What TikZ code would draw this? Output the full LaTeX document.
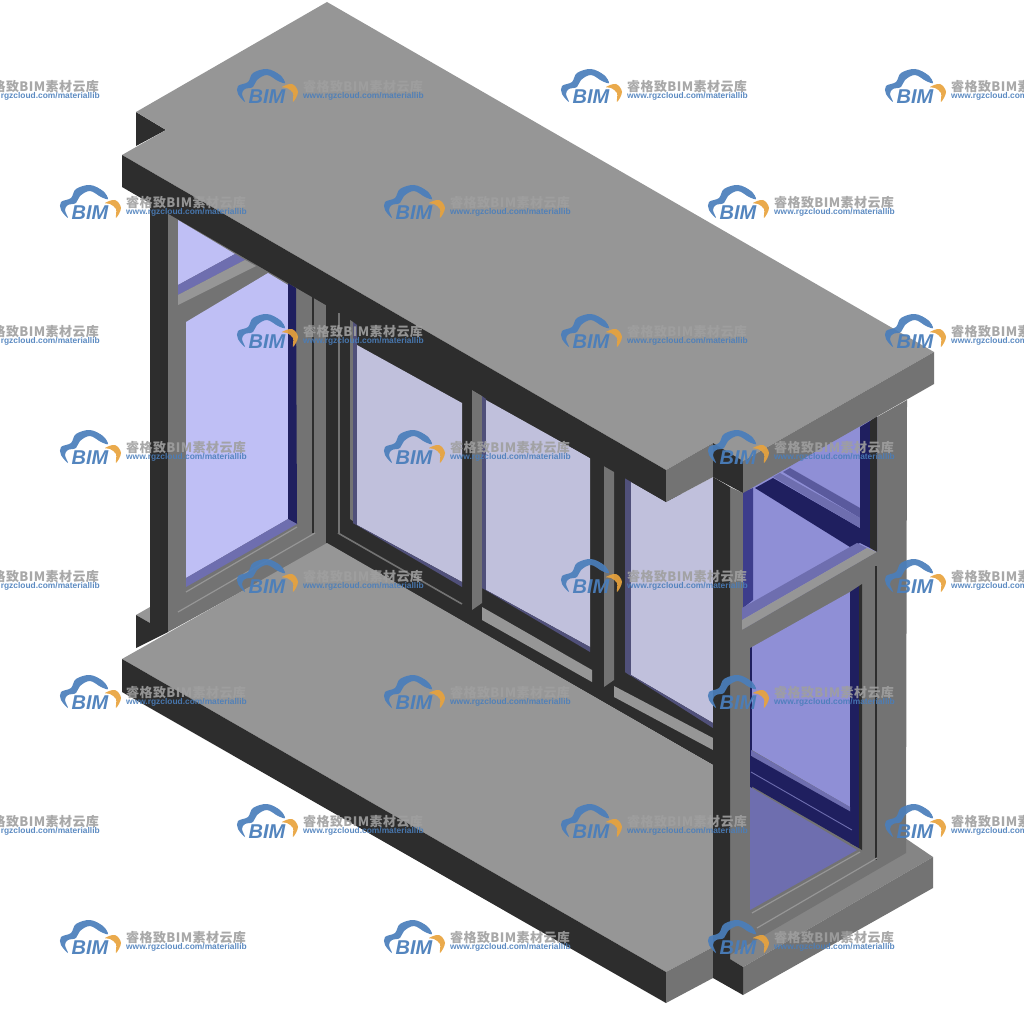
\documentclass[tikz,border=0pt]{standalone}
\usepackage{fontspec}
\setmainfont{Liberation Sans}
\newfontfamily\cjkfont[LetterSpace=3.2]{Noto Sans CJK SC}
\definecolor{slabface}{HTML}{969696}
\definecolor{darkface}{HTML}{2D2D2D}
\definecolor{sideface}{HTML}{737373}
\definecolor{sillface}{HTML}{858585}
\definecolor{glassleft}{HTML}{BFBFF5}
\definecolor{glassmid}{HTML}{C0C0DC}
\definecolor{glassright}{HTML}{8F8FD6}
\definecolor{navyface}{HTML}{1F1F5F}
\definecolor{purpleband}{HTML}{6E6EAF}
\definecolor{steelband}{HTML}{50507A}
\definecolor{indigoface}{HTML}{3D3D8C}
\definecolor{cloudblue}{HTML}{4A7EBB}
\definecolor{cloudorange}{HTML}{E8A33D}
\tikzset{
  slabtop/.style={fill=slabface},
  slabdark/.style={fill=darkface},
  slabside/.style={fill=sideface},
  glassL/.style={fill=glassleft},
  glassM/.style={fill=glassmid},
  glassR/.style={fill=glassright},
  navy/.style={fill=navyface},
  band/.style={fill=purpleband},
  steel/.style={fill=steelband},
  lightband/.style={fill=slabface},
  hairline/.style={draw=slabface,line width=1.2pt},
  cloudpart/.style={fill=cloudblue,opacity=.92},
  cloudtip/.style={fill=cloudorange,opacity=.92},
  marktext/.style={inner sep=0pt,anchor=west,text opacity=.9},
}
\newcommand{\bimmark}[3]{
  \begin{scope}[shift={(#1,#2)}]
    \fill[cloudpart] plot[smooth cycle,tension=.6] coordinates {(-23,14) (-30,6) (-30,-2) (-20,-6) (-15,-15) (-1,-19) (12,-13) (17,-5) (10,-7) (-1,-13) (-11,-8) (-15,-1) (-23,1) (-26,6)};
    \fill[cloudtip] plot[smooth cycle,tension=.6] coordinates {(14,-1) (24,-4) (30,4) (25,14) (25,5) (19,0)};
    \node[inner sep=0pt,text=cloudblue,text opacity=.95] (logo#3) at (-1,9) {\fontsize{20}{20}\selectfont\bfseries\itshape BIM};
    \node[marktext,text=gray!75] (name#3) at (35,-1) {\fontsize{13}{13}\selectfont\bfseries\cjkfont 睿格致BIM素材云库};
    \node[marktext,text=cloudblue] (url#3) at (35,8) {\fontsize{8.4}{8}\selectfont\bfseries www.rgzcloud.com/materiallib};
  \end{scope}
}
\begin{document}
\begin{tikzpicture}[x=1pt,y=-1pt]
  \useasboundingbox (0,0) rectangle (1024,1024);

  % left wall
  \fill[slabdark] (136,112) -- (166,130) -- (136,146) -- cycle;
  \fill[slabtop] (136,615) -- (150,607) -- (150,623) -- cycle;
  \fill[slabdark] (136,615) -- (150,623) -- (150,200) -- (168,200) -- (168,632) -- (136,648) -- cycle;
  \fill[slabside] (168,205) -- (330,300) -- (330,543) -- (168,632) -- cycle;
  \fill[glassL] (178,220) -- (235,254) -- (178,285) -- cycle;
  \fill[band] (178,285) -- (235,254) -- (245,260) -- (178,295) -- cycle;
  \fill[lightband] (178,295) -- (245,260) -- (256,266) -- (178,305) -- cycle;
  \fill[glassL] (186,322) -- (268,273) -- (288,285) -- (288,519) -- (186,578) -- cycle;
  \fill[navy] (288,283) -- (296,288) -- (297,524) -- (288,519) -- cycle;
  \fill[band] (186,578) -- (288,519) -- (297,524) -- (186,587) -- cycle;
  \draw[hairline] (186,592) -- (297,527);
  \draw[hairline] (178,612) -- (315,533);
  \fill[slabdark] (312,295) rectangle (314,533);

  % long window
  \fill[slabdark] (326,290) -- (713,513) -- (713,765) -- (326,543) -- cycle;
  \fill[slabside] (338,313) rectangle (340,533);
  \fill[slabside] (350,320) -- (353,322) -- (353,521) -- (350,519) -- cycle;
  \fill[steel] (353,322) -- (357,325) -- (357,525) -- (353,523) -- cycle;
  \fill[glassM] (357,345) -- (462,403) -- (462,582) -- (357,525) -- cycle;
  \fill[steel] (353,523) -- (357,525) -- (462,582) -- (462,587) -- cycle;
  \draw[draw=sideface,line width=1.6pt] (338,533) -- (462,604);
  \fill[slabside] (472,390) -- (482,396) -- (482,603) -- (472,610) -- cycle;
  \fill[steel] (482,396) -- (486,399) -- (486,590) -- (482,588) -- cycle;
  \fill[glassM] (486,400) -- (590,458) -- (590,647) -- (486,590) -- cycle;
  \fill[steel] (482,588) -- (486,590) -- (590,647) -- (590,652) -- cycle;
  \fill[lightband] (482,607) -- (592,670) -- (592,682) -- (482,620) -- cycle;
  \fill[slabside] (604,465) -- (614,471) -- (614,680) -- (604,687) -- cycle;
  \fill[steel] (625,476) -- (631,480) -- (631,676) -- (625,672) -- cycle;
  \fill[glassM] (631,482) -- (666,502) -- (713,477) -- (713,723) -- (631,675) -- cycle;
  \fill[steel] (625,672) -- (631,675) -- (713,723) -- (713,728) -- cycle;
  \fill[lightband] (614,686) -- (713,738) -- (713,750) -- (614,697) -- cycle;

  % floor slab
  \fill[slabtop] (122,659) -- (327,543) -- (713,765) -- (713,947) -- (666,972) -- cycle;
  \fill[slabdark] (122,659) -- (122,692) -- (666,1003) -- (666,972) -- cycle;
  \fill[slabside] (666,972) -- (713,947) -- (713,978) -- (666,1003) -- cycle;

  % right wall and sill
  \fill[sillface] (905,838) -- (933,857) -- (743,967) -- (730,959) -- (730,940) -- cycle;
  \fill[slabside] (743,967) -- (933,857) -- (933,888) -- (743,995) -- cycle;
  \fill[slabside] (730,487) -- (743,493) -- (907,400) -- (906,853) -- (730,955) -- cycle;
  \fill[slabdark] (713,477) -- (730,487) -- (730,959) -- (743,967) -- (743,995) -- (713,978) -- cycle;

  % right window, upper part
  \fill[glassR] (743,490) -- (877,416) -- (877,552) -- (743,630) -- cycle;
  \fill[indigoface] (743,492) -- (753,488) -- (753,600) -- (743,608) -- cycle;
  \fill[navy] (755,488) -- (773,478) -- (860,528) -- (860,543) -- (850,547) -- cycle;
  \fill[fill=indigoface!85] (783,472) -- (790,468) -- (860,508) -- (860,518) -- cycle;
  \fill[band] (773,477) -- (780,473) -- (860,518) -- (860,528) -- cycle;
  \fill[navy] (860,427) -- (870,421) -- (870,548) -- (860,543) -- cycle;
  \fill[slabdark] (870,421) -- (877,416) -- (877,552) -- (870,548) -- cycle;
  \fill[band] (742,608) -- (857,543) -- (867,548) -- (742,620) -- cycle;
  \fill[lightband] (742,620) -- (867,548) -- (877,552) -- (742,630) -- cycle;
  \fill[slabside] (742,630) -- (877,552) -- (877,590) -- (742,660) -- cycle;

  % right window, lower part
  \fill[slabdark] (875,566) rectangle (877,860);
  \fill[navy] (750,648) -- (752,647) -- (752,790) -- (750,787) -- cycle;
  \fill[glassR] (752,647) -- (850,592) -- (850,807) -- (752,750) -- cycle;
  \fill[navy] (850,592) -- (859,586) -- (859,848) -- (850,843) -- cycle;
  \fill[slabdark] (859,586) -- (862,584) -- (862,850) -- (859,848) -- cycle;
  \fill[band] (751,750) -- (850,807) -- (850,812) -- (751,756) -- cycle;
  \fill[navy] (751,756) -- (851,812) -- (859,848) -- (751,786) -- cycle;
  \draw[draw=purpleband,line width=.9pt] (751,772) -- (852,830);
  \fill[band] (750,787) -- (857,850) -- (750,910) -- cycle;
  \draw[hairline] (752,913) -- (860,852);
  \draw[hairline] (757,928) -- (877,858);

  % roof slab
  \fill[slabtop] (122,155) -- (666,470) -- (713,443) -- (743,461) -- (934,352) -- (327,2) -- (136,112) -- (166,130) -- cycle;
  \fill[slabdark] (122,155) -- (122,187) -- (666,502) -- (666,470) -- cycle;
  \fill[slabside] (666,470) -- (713,443) -- (713,477) -- (666,502) -- cycle;
  \fill[slabdark] (713,443) -- (743,461) -- (743,493) -- (713,477) -- cycle;
  \fill[slabside] (743,461) -- (934,352) -- (934,384) -- (743,493) -- cycle;

  % marks over the drawing
  \foreach \wy [count=\r] in {88,333,578,823}
    \foreach \wx [count=\c] in {-56,268,592,916}
      {\bimmark{\wx}{\wy}{a\r\c}}
  \foreach \wy [count=\r] in {204,449,694,939}
    \foreach \wx [count=\c] in {91,415,739}
      {\bimmark{\wx}{\wy}{b\r\c}}
\end{tikzpicture}
\end{document}
